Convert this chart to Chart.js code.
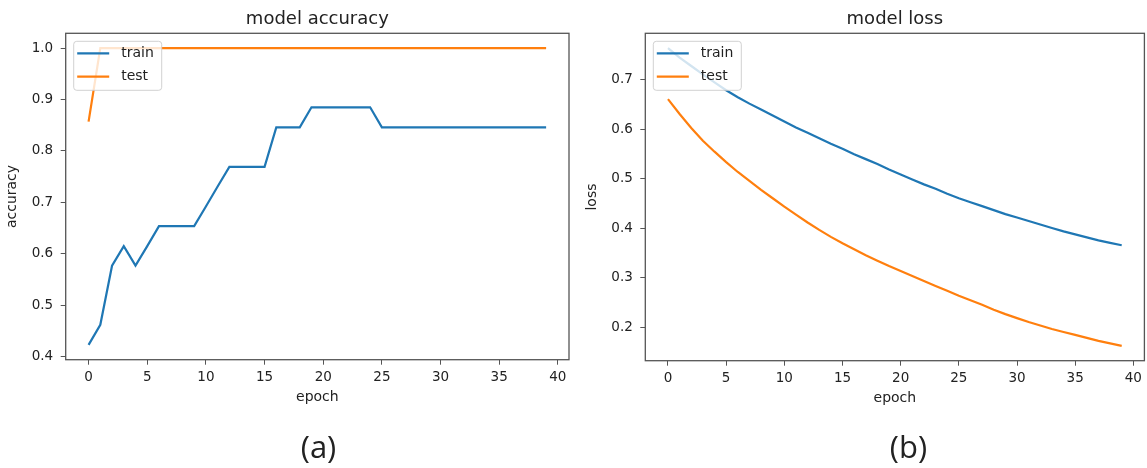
<!DOCTYPE html>
<html>
<head>
<meta charset="utf-8">
<script src="https://cdn.jsdelivr.net/npm/chart.js@4"></script>
<style>
  html, body { margin: 0; padding: 0; background: #fff; }
  #wrap { position: relative; width: 1147px; height: 468px; overflow: hidden; background: #fff; }
  canvas { position: absolute; top: 0; }
  #accCanvas { left: 0; }
  #lossCanvas { left: 580px; }
  .caption {
    position: absolute; top: 446px; transform: translate(-50%, -50%);
    font-family: "Open Sans", sans-serif; font-size: 31px; color: #222;
    white-space: nowrap; line-height: 1;
  }
</style>
</head>
<body>
<div id="wrap">
  <canvas id="accCanvas" width="580" height="468"></canvas>
  <canvas id="lossCanvas" width="567" height="468"></canvas>
  <div class="caption" id="capA" style="left:318.5px"></div>
  <div class="caption" id="capB" style="left:908.5px"></div>
</div>
<script>
// ---- data ----
const epochs = Array.from({ length: 40 }, (_, i) => i);

const trainAcc = [
  0.423, 0.462, 0.577, 0.615, 0.577, 0.615, 0.654, 0.654, 0.654, 0.654,
  0.692, 0.731, 0.769, 0.769, 0.769, 0.769, 0.846, 0.846, 0.846, 0.885,
  0.885, 0.885, 0.885, 0.885, 0.885, 0.846, 0.846, 0.846, 0.846, 0.846,
  0.846, 0.846, 0.846, 0.846, 0.846, 0.846, 0.846, 0.846, 0.846, 0.846
];
const testAcc = [
  0.857, 1.0, 1.0, 1.0, 1.0, 1.0, 1.0, 1.0, 1.0, 1.0,
  1.0, 1.0, 1.0, 1.0, 1.0, 1.0, 1.0, 1.0, 1.0, 1.0,
  1.0, 1.0, 1.0, 1.0, 1.0, 1.0, 1.0, 1.0, 1.0, 1.0,
  1.0, 1.0, 1.0, 1.0, 1.0, 1.0, 1.0, 1.0, 1.0, 1.0
];

const trainLoss = [
  0.764, 0.745, 0.728, 0.711, 0.695, 0.679, 0.665, 0.652, 0.640, 0.628,
  0.616, 0.604, 0.593, 0.582, 0.571, 0.561, 0.550, 0.540, 0.530, 0.519,
  0.509, 0.499, 0.489, 0.480, 0.470, 0.461, 0.453, 0.445, 0.437, 0.429,
  0.422, 0.415, 0.408, 0.401, 0.394, 0.388, 0.382, 0.376, 0.371, 0.366
];
const testLoss = [
  0.661, 0.631, 0.603, 0.577, 0.555, 0.534, 0.514, 0.496, 0.478, 0.461,
  0.444, 0.428, 0.412, 0.397, 0.383, 0.370, 0.358, 0.346, 0.335, 0.324,
  0.314, 0.304, 0.294, 0.284, 0.274, 0.264, 0.255, 0.246, 0.236, 0.227,
  0.219, 0.211, 0.204, 0.197, 0.191, 0.185, 0.179, 0.173, 0.168, 0.163
];

const seriesNames = ['train', 'test'];
const panelTitles = ['model accuracy', 'model loss'];
const yAxisTitles = ['accuracy', 'loss'];
const xAxisTitle = 'epoch';
const panelCaptions = ['(a)', '(b)'];

const epochTicks = [0, 5, 10, 15, 20, 25, 30, 35, 40];
const epochTickLabels = ['0', '5', '10', '15', '20', '25', '30', '35', '40'];
const accTicks = [0.4, 0.5, 0.6, 0.7, 0.8, 0.9, 1.0];
const accTickLabels = ['0.4', '0.5', '0.6', '0.7', '0.8', '0.9', '1.0'];
const lossTicks = [0.2, 0.3, 0.4, 0.5, 0.6, 0.7];
const lossTickLabels = ['0.2', '0.3', '0.4', '0.5', '0.6', '0.7'];

// ---- styling ----
const BLUE = '#1f77b4';
const ORANGE = '#ff7f0e';
const TEXT = '#222';
const SPINE = '#555';
const FONT = '"DejaVu Sans", sans-serif';

Chart.defaults.font.family = FONT;
Chart.defaults.color = TEXT;

document.getElementById('capA').textContent = panelCaptions[0];
document.getElementById('capB').textContent = panelCaptions[1];

// axis limits with 5% margins around the data extent
function paddedRange(lists) {
  const all = lists.flat();
  const lo = Math.min(...all), hi = Math.max(...all);
  const m = 0.05 * (hi - lo);
  return [lo - m, hi + m];
}
const xRange = paddedRange([[epochs[0], epochs[epochs.length - 1]]]);

// full box around the plot area plus an inset legend in the upper left
const framedLegend = {
  id: 'framedLegend',
  afterDatasetsDraw(chart) {
    const { ctx, chartArea: a } = chart;
    ctx.save();
    ctx.strokeStyle = SPINE;
    ctx.lineWidth = 1.3;
    ctx.strokeRect(a.left, a.top, a.right - a.left, a.bottom - a.top);

    const x = a.left + 8, y = a.top + 8, w = 88, h = 49;
    ctx.beginPath();
    ctx.roundRect(x, y, w, h, 3);
    ctx.fillStyle = 'rgba(255,255,255,0.8)';
    ctx.fill();
    ctx.strokeStyle = 'rgba(204,204,204,0.9)';
    ctx.lineWidth = 1;
    ctx.stroke();

    ctx.font = '14px ' + FONT;
    ctx.textBaseline = 'middle';
    ctx.textAlign = 'left';
    chart.data.datasets.forEach((ds, i) => {
      const ry = y + 12 + i * 23.3;
      ctx.beginPath();
      ctx.moveTo(x + 3.5, ry);
      ctx.lineTo(x + 35.5, ry);
      ctx.strokeStyle = ds.borderColor;
      ctx.lineWidth = 2.2;
      ctx.stroke();
      ctx.fillStyle = TEXT;
      ctx.fillText(ds.label, x + 47.5, ry);
    });
    ctx.restore();
  }
};

function makePanel(canvasId, cfg) {
  const yRange = paddedRange(cfg.series);
  return new Chart(document.getElementById(canvasId), {
    type: 'line',
    data: {
      labels: epochs,
      datasets: cfg.series.map((values, i) => ({
        label: seriesNames[i],
        data: values,
        borderColor: [BLUE, ORANGE][i],
        backgroundColor: [BLUE, ORANGE][i],
        borderWidth: 2.2,
        pointRadius: 0,
        tension: 0,
        fill: false
      }))
    },
    options: {
      responsive: false,
      animation: false,
      layout: { padding: cfg.padding },
      plugins: {
        legend: { display: false },
        tooltip: { enabled: false },
        title: {
          display: true,
          text: cfg.title,
          fullSize: false,
          color: TEXT,
          font: { family: FONT, size: 18, weight: 'normal' },
          padding: { top: 8.7, bottom: 3 }
        }
      },
      scales: {
        x: {
          type: 'linear',
          min: xRange[0],
          max: xRange[1],
          afterBuildTicks: s => { s.ticks = epochTicks.map(v => ({ value: v })); },
          afterFit: s => { s.height = 50; },
          ticks: {
            callback: (v, i) => epochTickLabels[i],
            autoSkip: false,
            maxRotation: 0,
            padding: 5,
            color: TEXT,
            font: { size: 13.5 }
          },
          grid: { drawOnChartArea: false, drawTicks: true, tickLength: 5, color: SPINE, lineWidth: 1 },
          border: { display: false },
          title: {
            display: true,
            text: xAxisTitle,
            color: TEXT,
            font: { size: 14 },
            padding: { top: 0, bottom: 3.5 }
          }
        },
        y: {
          type: 'linear',
          min: yRange[0],
          max: yRange[1],
          afterBuildTicks: s => { s.ticks = cfg.yTicks.map(v => ({ value: v })); },
          afterFit: s => { s.width = cfg.yWidth; },
          ticks: {
            callback: (v, i) => cfg.yTickLabels[i],
            autoSkip: false,
            padding: 7.5,
            color: TEXT,
            font: { size: 13.5 }
          },
          grid: { drawOnChartArea: false, drawTicks: true, tickLength: 5, color: SPINE, lineWidth: 1 },
          border: { display: false },
          title: {
            display: true,
            text: cfg.yTitle,
            color: TEXT,
            font: { size: 14 },
            padding: { top: 4, bottom: 0 }
          }
        }
      }
    },
    plugins: [framedLegend]
  });
}

makePanel('accCanvas', {
  title: panelTitles[0],
  yTitle: yAxisTitles[0],
  series: [trainAcc, testAcc],
  yTicks: accTicks,
  yTickLabels: accTickLabels,
  yWidth: 65.7,
  padding: { left: 0, right: 11, top: 0, bottom: 58.3 }
});

makePanel('lossCanvas', {
  title: panelTitles[1],
  yTitle: yAxisTitles[1],
  series: [trainLoss, testLoss],
  yTicks: lossTicks,
  yTickLabels: lossTickLabels,
  yWidth: 65.3,
  padding: { left: 0, right: 1, top: 0, bottom: 57.3 }
});
</script>
</body>
</html>
